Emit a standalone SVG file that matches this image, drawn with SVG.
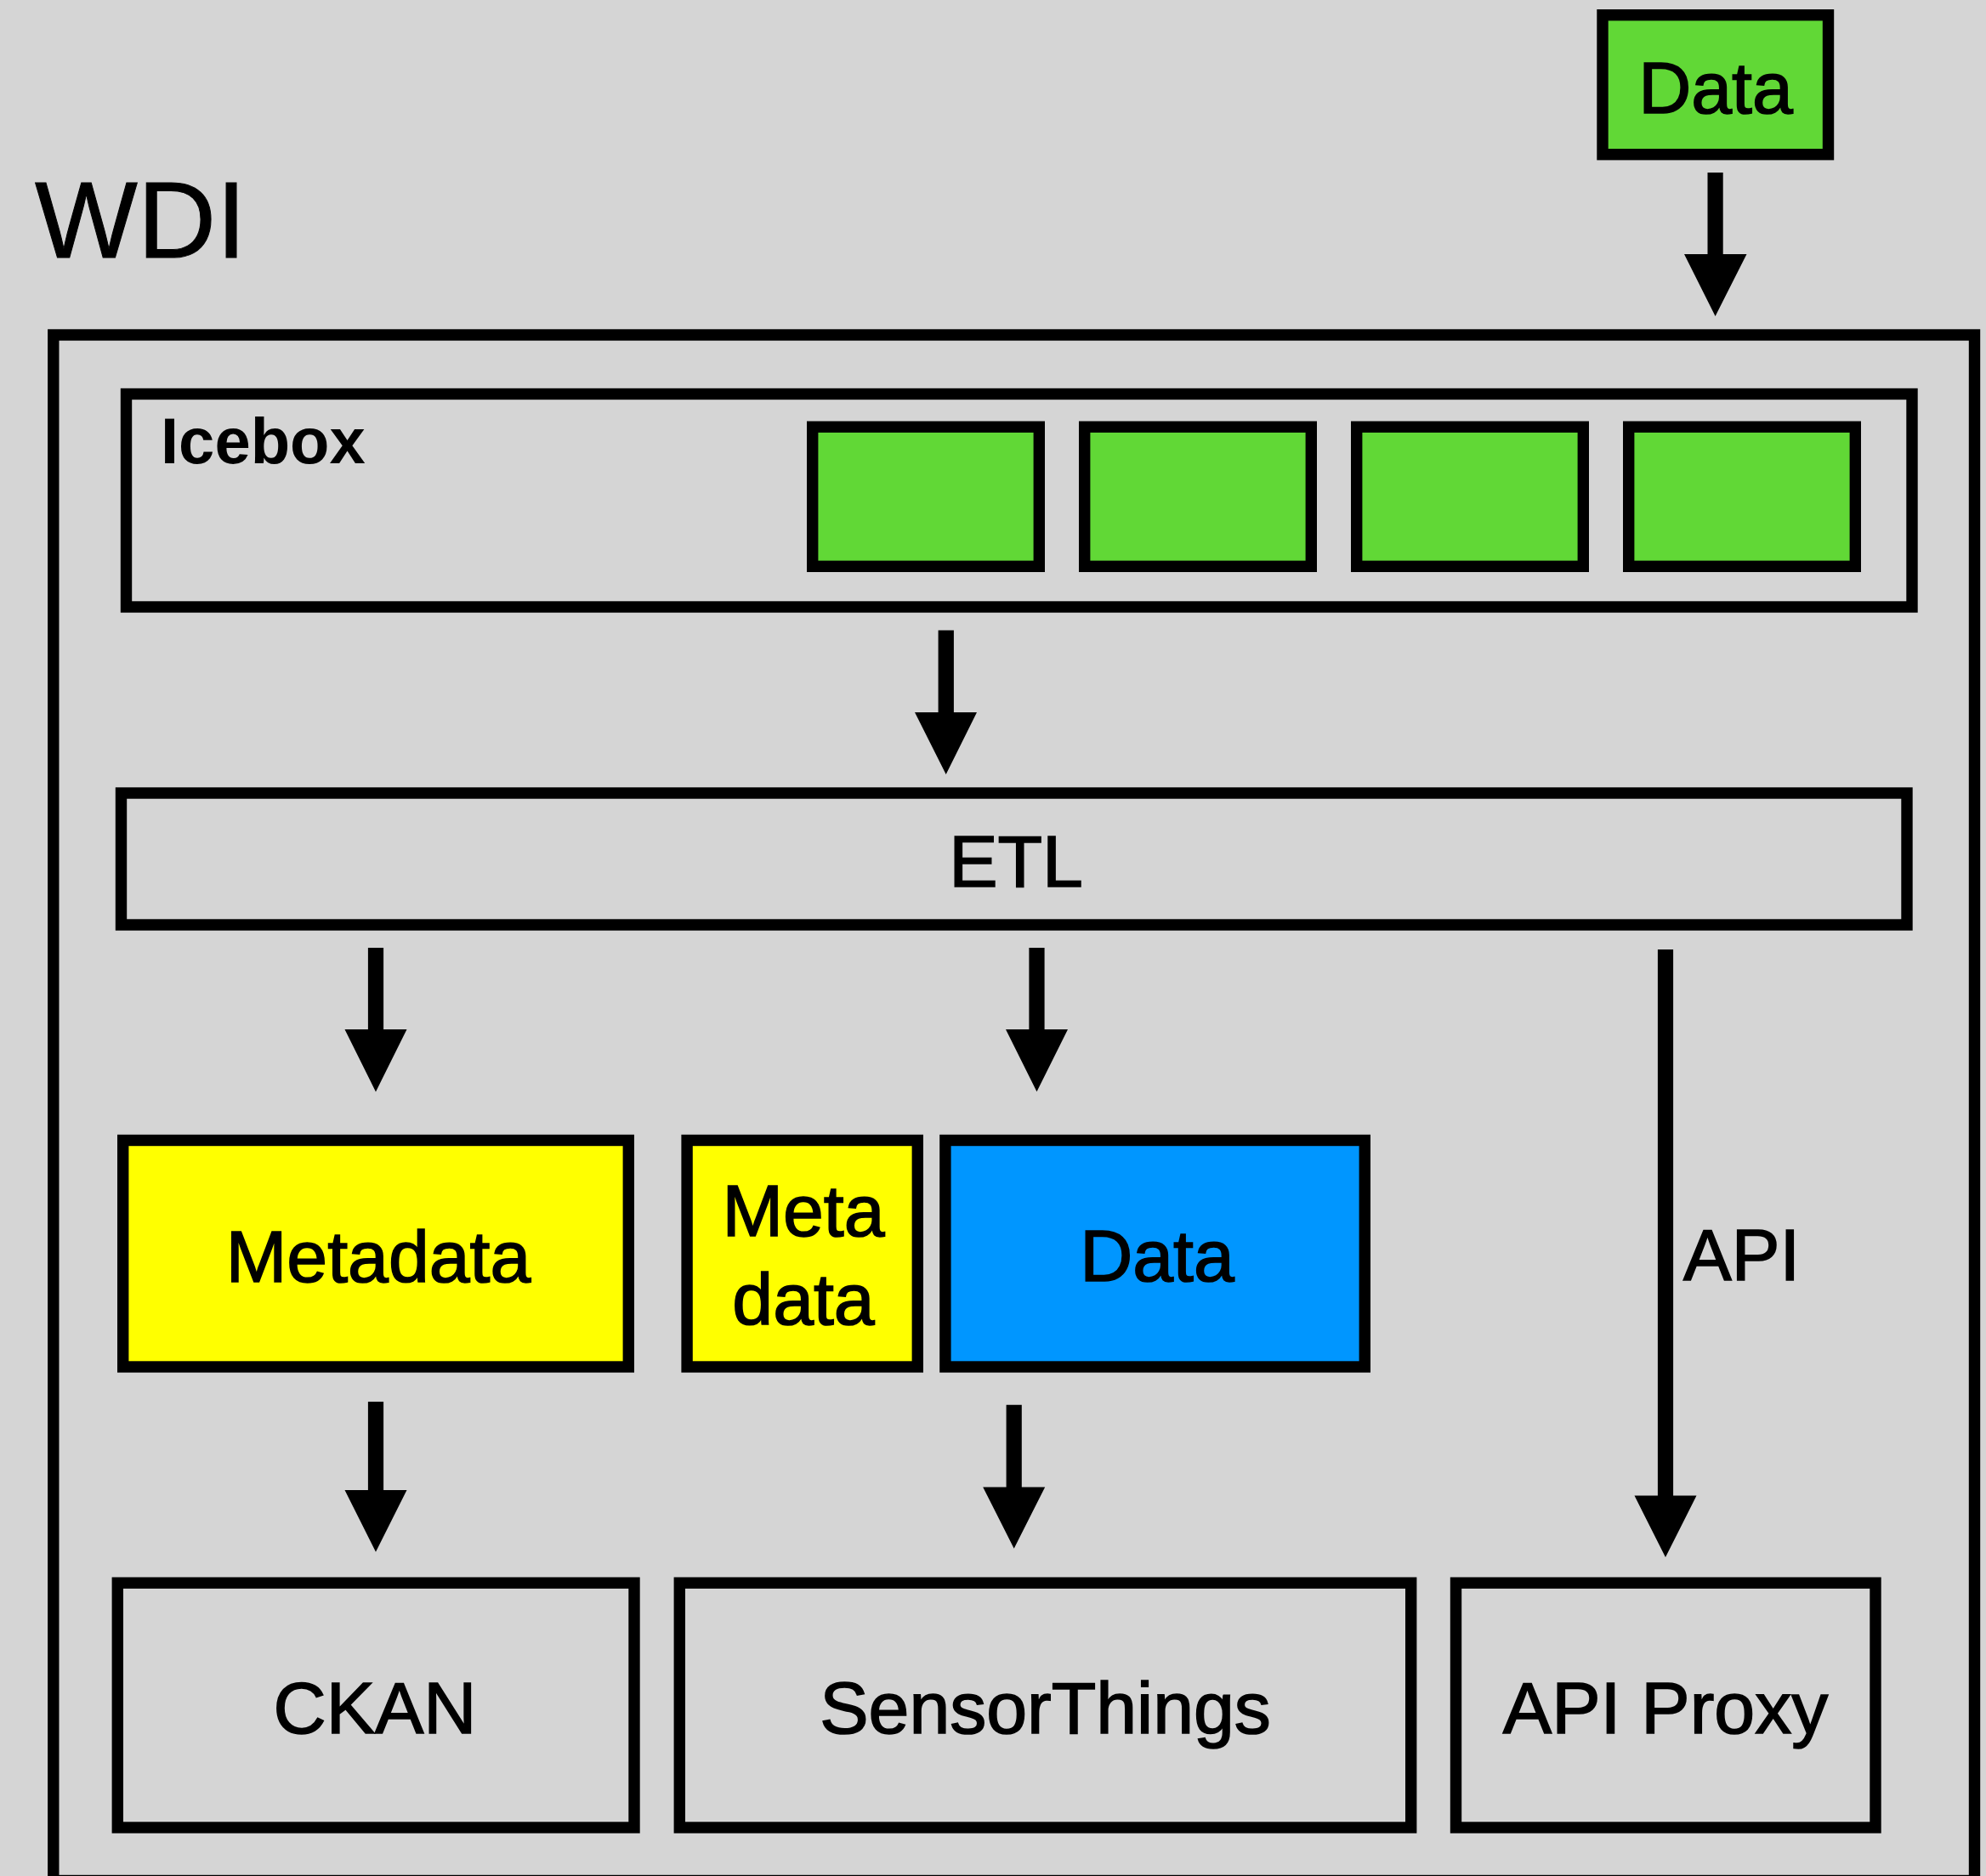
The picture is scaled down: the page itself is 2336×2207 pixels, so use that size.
<svg xmlns="http://www.w3.org/2000/svg" width="2336" height="2207" viewBox="0 0 2336 2207">
<style>
.box{stroke:#000;stroke-width:13.4;fill:none}
.green{fill:#61d836}
.yellow{fill:#ffff00}
.blue{fill:#0096ff}
.t{font-family:"Liberation Sans",Arial,Helvetica,sans-serif;fill:#000;font-size:86px;stroke:#000;stroke-width:1.6px}
.c{text-anchor:middle}
.arrow{fill:#000;stroke:none}
</style>
<rect x="0" y="0" width="2336" height="2207" fill="#d5d5d5"/>
<text class="t" x="41" y="303" style="font-size:128px;stroke-width:1px">WDI</text>
<g id="wdi">
<rect class="box" x="62.8" y="394" width="2259.7" height="1818.5"/>
</g>
<g id="data-source">
<rect class="box green" x="1885" y="17.7" width="265.5" height="164"/>
<text class="t c" x="2018" y="133">Data</text>
</g>
<g id="icebox">
<rect class="box" x="148.5" y="463.5" width="2100.5" height="250.5"/>
<text class="t" x="189" y="545" style="font-size:76px;font-weight:bold;stroke-width:0">Icebox</text>
<rect class="box green" x="955.7" y="502.2" width="266.6" height="164.1"/>
<rect class="box green" x="1275.7" y="502.2" width="266.6" height="164.1"/>
<rect class="box green" x="1595.7" y="502.2" width="266.6" height="164.1"/>
<rect class="box green" x="1915.7" y="502.2" width="266.6" height="164.1"/>
</g>
<g id="etl">
<rect class="box" x="142.5" y="933" width="2100.5" height="155"/>
<text class="t c" x="1195" y="1043">ETL</text>
</g>
<g id="metadata">
<rect class="box yellow" x="144.7" y="1341.5" width="594.6" height="266.5"/>
<text class="t c" x="445" y="1507.6">Metadata</text>
</g>
<g id="metadata-small">
<rect class="box yellow" x="808.1" y="1341.5" width="271.2" height="266.5"/>
<text class="t c" x="945" y="1453.7">Meta</text>
<text class="t c" x="945" y="1558">data</text>
</g>
<g id="data">
<rect class="box blue" x="1111.9" y="1341.5" width="493.4" height="266.5"/>
<text class="t c" x="1361" y="1507">Data</text>
</g>
<g id="ckan">
<rect class="box" x="138.3" y="1862.2" width="607.7" height="287.8"/>
<text class="t c" x="441" y="2038.6">CKAN</text>
</g>
<g id="sensorthings">
<rect class="box" x="799.3" y="1862.2" width="860.4" height="287.8"/>
<text class="t c" x="1229.5" y="2038.7">SensorThings</text>
</g>
<g id="apiproxy">
<rect class="box" x="1712.5" y="1862.2" width="493.5" height="287.8"/>
<text class="t c" x="1959" y="2038.7">API Proxy</text>
</g>
<g id="connectors">
<path class="arrow" d="M2008.5,203 H2026.7 V299 H2054.5 L2017.6,372 L1981,299 H2008.5 Z"/>
<path class="arrow" d="M1103.6,741.5 H1121.9 V838 H1149 L1112.7,911 L1076,838 H1103.6 Z"/>
<path class="arrow" d="M432.9,1115 H451.1 V1211 H478.5 L442,1284.4 L405.5,1211 H432.9 Z"/>
<path class="arrow" d="M1210.4,1115 H1228.6 V1211 H1256 L1219.5,1284.3 L1183,1211 H1210.4 Z"/>
<path class="arrow" d="M1949.9,1117 H1968.1 V1759.6 H1995.5 L1959,1832 L1922.5,1759.6 H1949.9 Z"/>
<text class="t" x="1980" y="1505.7" style="font-size:85px">API</text>
<path class="arrow" d="M432.9,1649 H451.1 V1753 H478.5 L442,1825.7 L405.5,1753 H432.9 Z"/>
<path class="arrow" d="M1183.6,1652.8 H1201.8 V1749.4 H1229.2 L1192.7,1821.8 L1156.2,1749.4 H1183.6 Z"/>
</g>
</svg>
